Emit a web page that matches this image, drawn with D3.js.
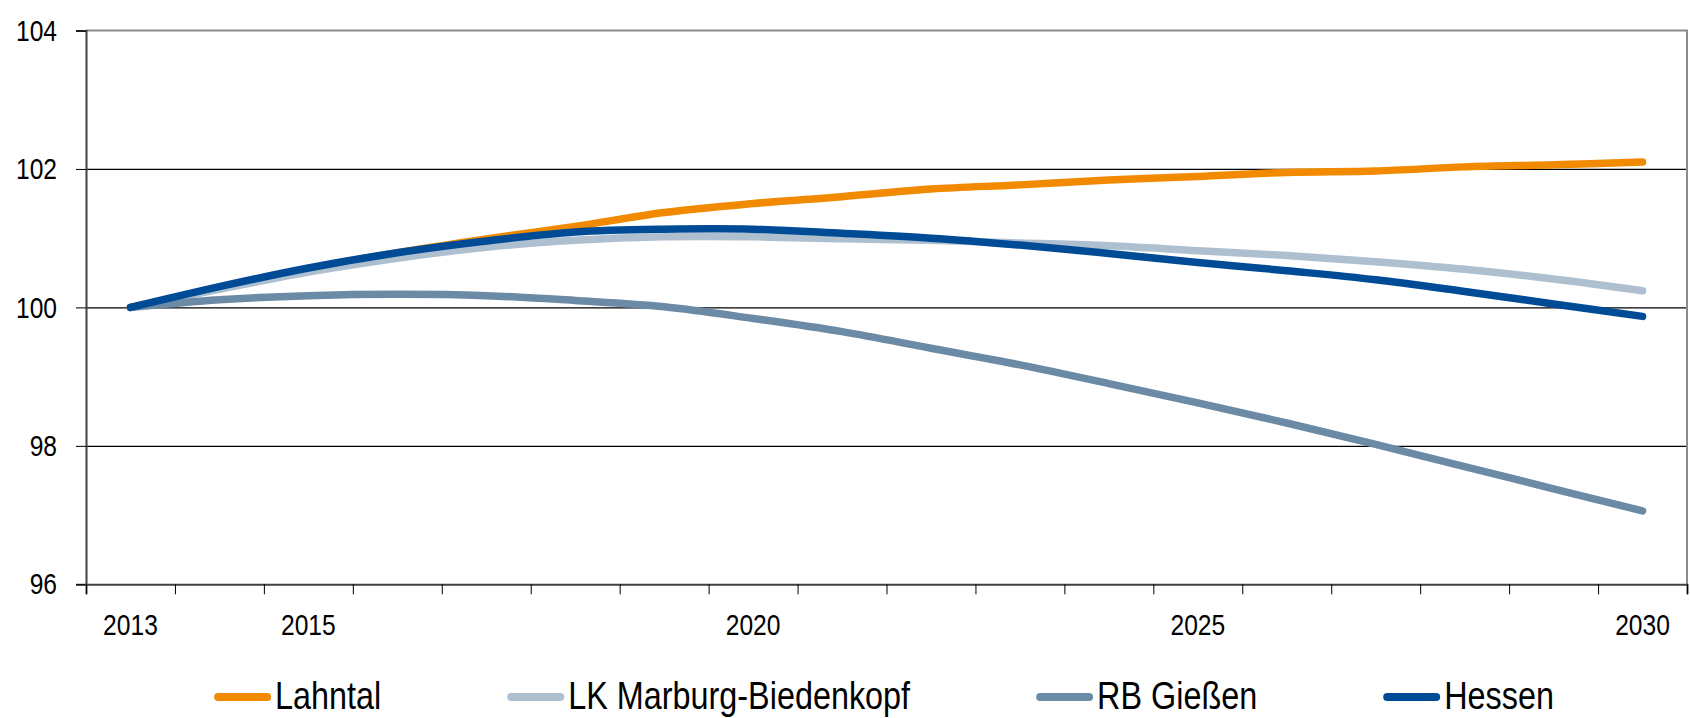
<!DOCTYPE html>
<html>
  <head>
    <meta charset="utf-8">
    <style>
    body {
      margin: 0;
      background: #fff;
    }
    text {
      font-family: "Liberation Sans", Arial, sans-serif;
      fill: #000;
    }
    .line {
      fill: none;
      stroke-width: 7.5px;
      stroke-linecap: round;
      stroke-linejoin: round;
    }
    </style>
  </head>
  <body>
    <script src="https://d3js.org/d3.v7.min.js"></script>
    <script>

    var years = [2013, 2014, 2015, 2016, 2017, 2018, 2019, 2020, 2021, 2022,
                 2023, 2024, 2025, 2026, 2027, 2028, 2029, 2030];
    var yearLabels = [2013, 2015, 2020, 2025, 2030];
    var yTicks = [96, 98, 100, 102, 104];

    var lahntal = [100.00, 100.28, 100.56, 100.79, 100.99, 101.17, 101.37, 101.50, 101.60,
                   101.71, 101.77, 101.84, 101.89, 101.95, 101.97, 102.03, 102.06, 102.10];
    var marburg = [100.00, 100.26, 100.51, 100.71, 100.87, 100.97, 101.02, 101.02, 100.99,
                   100.97, 100.93, 100.89, 100.82, 100.75, 100.66, 100.55, 100.41, 100.24];
    var giessen = [100.00, 100.11, 100.17, 100.19, 100.17, 100.10, 100.01, 99.84, 99.65,
                   99.41, 99.17, 98.90, 98.62, 98.33, 98.02, 97.70, 97.38, 97.06];
    var hessen  = [100.00, 100.30, 100.57, 100.79, 100.96, 101.09, 101.13, 101.13, 101.07,
                   101.00, 100.90, 100.78, 100.65, 100.53, 100.40, 100.23, 100.05, 99.87];

    var seriesNames = ["Lahntal", "LK Marburg-Biedenkopf", "RB Gießen", "Hessen"];
    var seriesColors = ["#f28a00", "#aec0cf", "#6a8aa5", "#004b96"];
    var seriesValues = [lahntal, marburg, giessen, hessen];

    var W = 1690, H = 718;
    var plotL = 86, plotR = 1687, plotT = 30.5, plotB = 584.3;
    var narrow = 0.82; // squeeze Liberation Sans to look like Arial Narrow

    var svg = d3.select("body").append("svg")
        .attr("width", W)
        .attr("height", H);

    var x = d3.scaleBand().domain(years).range([plotL, plotR]);
    var xEdge = d3.scaleLinear().domain([0, years.length]).range([plotL, plotR]);
    var y = d3.scaleLinear().domain([96, 104]).range([plotB, plotT]);

    // gridlines
    svg.append("g")
        .attr("transform", "translate(" + plotL + ",0)")
        .call(d3.axisLeft(y).tickValues([98, 100, 102]).tickSize(-(plotR - plotL)).tickFormat(""))
        .call(function(g) {
          g.select(".domain").remove();
          g.selectAll(".tick line").attr("stroke", "#000").attr("stroke-width", 1.3);
        });

    // top + right border of plot area
    svg.append("path")
        .attr("d", "M" + plotL + "," + y(104) + "H" + plotR + "V" + plotB)
        .attr("fill", "none")
        .attr("stroke", "#8c8c8c")
        .attr("stroke-width", 2);

    // series
    var line = d3.line()
        .x(function(d, i) { return x(years[i]) + x.bandwidth() / 2; })
        .y(function(d) { return y(d); })
        .curve(d3.curveCatmullRom);

    seriesValues.forEach(function(vals, k) {
      svg.append("path")
          .datum(vals)
          .attr("class", "line")
          .style("stroke", seriesColors[k])
          .attr("d", line);
    });

    // y axis
    svg.append("g")
        .attr("transform", "translate(" + plotL + ",0)")
        .call(d3.axisLeft(y).tickValues(yTicks).tickSize(10).tickPadding(19))
        .call(function(g) {
          g.select(".domain").attr("stroke", "#404040").attr("stroke-width", 2);
          g.selectAll(".tick line").attr("stroke", "#000");
          g.selectAll(".tick text")
              .style("font-size", "30px")
              .attr("font-family", null)
              .attr("x", -29 / narrow)
              .attr("transform", "scale(" + narrow + ",1)");
        });

    // x axis: ticks at category edges
    svg.append("g")
        .attr("transform", "translate(0," + plotB + ")")
        .call(d3.axisBottom(xEdge).ticks(years.length).tickSize(10).tickFormat(""))
        .call(function(g) {
          g.select(".domain").attr("stroke", "#404040").attr("stroke-width", 2);
          g.selectAll(".tick line").attr("stroke", "#000");
        });

    // x labels at category centres
    svg.append("g")
        .attr("transform", "translate(0," + plotB + ")")
        .call(d3.axisBottom(x).tickValues(yearLabels).tickSize(0).tickPadding(29))
        .call(function(g) {
          g.select(".domain").remove();
          g.selectAll(".tick text")
              .style("font-size", "30px")
              .attr("font-family", null)
              .attr("transform", "scale(" + narrow + ",1)");
        });

    // legend
    var legNarrow = 0.83;
    var legend = svg.append("g");
    var items = legend.selectAll("g")
        .data(seriesNames)
        .enter().append("g");

    items.append("line")
        .attr("x1", 4).attr("x2", 53)
        .attr("y1", 697).attr("y2", 697)
        .attr("stroke", function(d, i) { return seriesColors[i]; })
        .attr("stroke-width", 8)
        .attr("stroke-linecap", "round");

    items.append("text")
        .attr("x", 61 / legNarrow)
        .attr("y", 709)
        .attr("transform", "scale(" + legNarrow + ",1)")
        .style("font-size", "39px")
        .text(function(d) { return d; });

    var gap = 130, widths = [];
    items.each(function() { widths.push(this.getBBox().width); });
    var total = d3.sum(widths) + gap * (widths.length - 1);
    var cx = 882, pos = cx - total / 2;
    items.attr("transform", function(d, i) {
      var t = "translate(" + pos + ",0)";
      pos += widths[i] + gap;
      return t;
    });

    </script>
  </body>
</html>
